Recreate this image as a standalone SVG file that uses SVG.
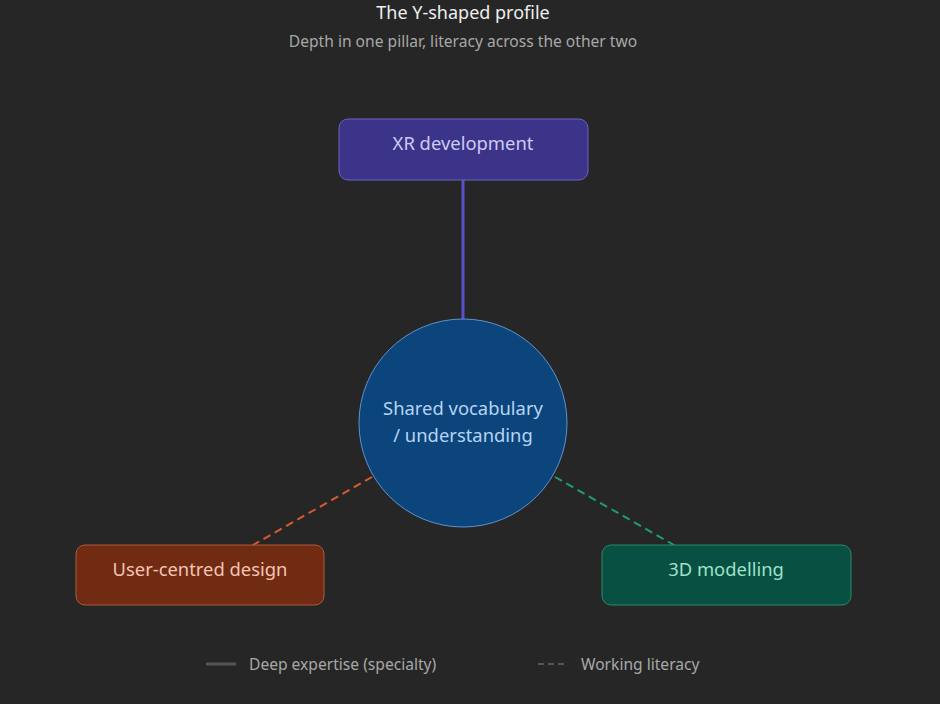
<svg xmlns="http://www.w3.org/2000/svg" width="940" height="704" viewBox="0 0 940 704">
<style>
text{font-family:"Noto Sans","Liberation Sans",sans-serif;}
.title{font-size:18px;fill:#eeeeee;text-anchor:middle;}
.sub{font-size:15.6px;fill:#a8a8a8;text-anchor:middle;}
.lbl{font-size:18.4px;text-anchor:middle;dominant-baseline:central;}
.leg{font-size:15.6px;fill:#a8a8a8;dominant-baseline:central;}
</style>
<rect x="0" y="0" width="940" height="704" fill="#262626"/>
<text class="title" x="463" y="19">The Y-shaped profile</text>
<text class="sub" x="463" y="47">Depth in one pillar, literacy across the other two</text>
<g id="connectors">
<line x1="463" y1="180" x2="463" y2="319" stroke="#5a4fcf" stroke-width="3"/>
<line x1="372" y1="477" x2="253" y2="545" stroke="#d85a30" stroke-width="2" stroke-dasharray="8 5"/>
<line x1="555" y1="477" x2="674" y2="545" stroke="#1d9e75" stroke-width="2" stroke-dasharray="8 5"/>
</g>
<g id="xr">
<rect x="339" y="119" width="249" height="61" rx="9" fill="#3c3489" stroke="#6a62c4" stroke-width="1"/>
<text class="lbl" x="463" y="142" fill="#cecbf6">XR development</text>
</g>
<g id="shared">
<circle cx="463" cy="423" r="104" fill="#0c447c" stroke="#5e93cf" stroke-width="1"/>
<text class="lbl" x="463" y="407" fill="#b5d4f4">Shared vocabulary</text>
<text class="lbl" x="463" y="434" fill="#b5d4f4">/ understanding</text>
</g>
<g id="ucd">
<rect x="76" y="545" width="248" height="60" rx="9" fill="#712b13" stroke="#b25a3a" stroke-width="1"/>
<text class="lbl" x="200" y="568" fill="#f5c4b3">User-centred design</text>
</g>
<g id="model">
<rect x="602" y="545" width="249" height="60" rx="9" fill="#085041" stroke="#2a8a6a" stroke-width="1"/>
<text class="lbl" x="726" y="568" fill="#9fe1cb">3D modelling</text>
</g>
<g id="legend">
<line x1="206" y1="664" x2="236" y2="664" stroke="#555555" stroke-width="3"/>
<text class="leg" x="249" y="664">Deep expertise (specialty)</text>
<line x1="538" y1="664" x2="566" y2="664" stroke="#555555" stroke-width="2" stroke-dasharray="6 4"/>
<text class="leg" x="581" y="664">Working literacy</text>
</g>
</svg>
